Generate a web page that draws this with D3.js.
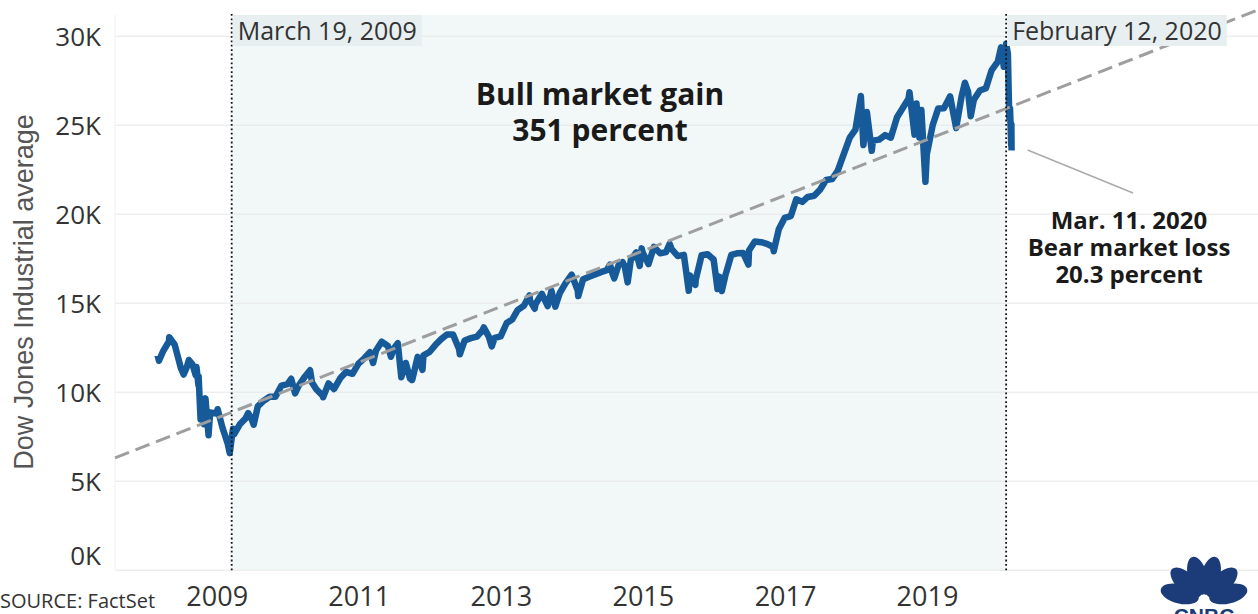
<!DOCTYPE html>
<html>
<head>
<meta charset="utf-8">
<script src="https://cdnjs.cloudflare.com/ajax/libs/d3/7.8.5/d3.min.js"></script>
<style>
body { margin: 0; background: #fff; }
svg { display: block; }
.grid line { stroke: #e6e6e6; stroke-width: 1; }
.grid path { display: none; }
.axis path { display: none; }
.axis text { font-family: "Open Sans", sans-serif; fill: #333; }
</style>
</head>
<body>
<svg width="1258" height="614"></svg>
<script>
// Dow Jones Industrial average
var dates = [
  "2008-03-03","2008-03-10","2008-03-31","2008-04-30","2008-05-02","2008-05-30","2008-06-30","2008-07-15",
  "2008-07-31","2008-08-11","2008-08-29","2008-09-15","2008-09-19","2008-09-29","2008-09-30","2008-10-10",
  "2008-10-13","2008-10-27","2008-10-31","2008-11-04","2008-11-20","2008-11-28","2008-12-31",
  "2009-01-06","2009-01-30","2009-02-27","2009-03-09","2009-03-19","2009-03-26","2009-03-31","2009-04-30",
  "2009-05-29","2009-06-12","2009-06-30","2009-07-10","2009-07-31","2009-08-31","2009-09-30","2009-10-30",
  "2009-11-30","2009-12-31",
  "2010-01-19","2010-02-08","2010-02-26","2010-03-31","2010-04-26","2010-05-06","2010-05-28","2010-06-30",
  "2010-07-02","2010-07-30","2010-08-27","2010-09-30","2010-10-29","2010-11-30","2010-12-31",
  "2011-01-31","2011-02-28","2011-03-16","2011-03-31","2011-04-29","2011-05-31","2011-06-16","2011-06-30",
  "2011-07-21","2011-08-08","2011-08-31","2011-09-22","2011-09-30","2011-10-03","2011-10-31","2011-11-25",
  "2011-11-30","2011-12-30",
  "2012-01-31","2012-02-29","2012-03-30","2012-04-30","2012-05-31","2012-06-04","2012-06-29","2012-07-31",
  "2012-08-31","2012-09-28","2012-10-05","2012-10-31","2012-11-15","2012-11-30","2012-12-31",
  "2013-01-31","2013-02-28","2013-03-28","2013-04-30","2013-05-28","2013-05-31","2013-06-24","2013-06-28",
  "2013-07-31","2013-08-30","2013-09-18","2013-09-30","2013-10-08","2013-10-31","2013-11-29","2013-12-31",
  "2014-01-31","2014-02-03","2014-02-28","2014-03-31","2014-04-30","2014-05-30","2014-06-30","2014-07-16",
  "2014-07-31","2014-08-07","2014-08-29","2014-09-19","2014-09-30","2014-10-15","2014-10-31","2014-11-28",
  "2014-12-16","2014-12-26","2014-12-31",
  "2015-01-30","2015-02-27","2015-03-31","2015-04-30","2015-05-19","2015-05-29","2015-06-30","2015-07-31",
  "2015-08-25","2015-08-31","2015-09-28","2015-09-30","2015-10-30","2015-11-30","2015-12-31",
  "2016-01-20","2016-01-29","2016-02-11","2016-02-29","2016-03-31","2016-04-29","2016-05-31","2016-06-27",
  "2016-06-30","2016-07-29","2016-08-31","2016-09-30","2016-10-31","2016-11-04","2016-11-30","2016-12-30",
  "2017-01-31","2017-02-28","2017-03-31","2017-04-28","2017-05-31","2017-06-30","2017-07-31","2017-08-31",
  "2017-09-29","2017-10-31","2017-11-30","2017-12-29",
  "2018-01-26","2018-02-08","2018-02-26","2018-03-23","2018-03-29","2018-04-30","2018-05-31","2018-06-29",
  "2018-07-31","2018-08-31","2018-09-28","2018-10-03","2018-10-29","2018-10-31","2018-11-08","2018-11-23",
  "2018-12-03","2018-12-24","2018-12-31",
  "2019-01-31","2019-02-28","2019-03-29","2019-04-30","2019-05-31","2019-06-28","2019-07-15","2019-07-31",
  "2019-08-14","2019-08-30","2019-09-30","2019-10-31","2019-11-29","2019-12-31",
  "2020-01-17","2020-01-31","2020-02-12","2020-02-21","2020-02-28","2020-03-03","2020-03-09","2020-03-10",
  "2020-03-11"
];
var values = [
  12050,11740,12263,12820,13058,12638,11350,10962,
  11378,11782,11544,10917,11388,10365,10851,8451,
  9387,8175,9325,9625,7552,8829,8776,
  9015,8000,7063,6547,7400,7924,7609,8168,
  8500,8799,8447,8146,9172,9496,9712,9713,
  10345,10428,
  10725,9908,10325,10857,11205,10520,10137,9774,
  9686,10466,10150,10788,11118,11006,11578,
  11892,12226,11613,12320,12811,12570,11962,12414,
  12724,10810,11614,10733,10913,10655,11955,11231,
  12046,12218,
  12633,12952,13212,13214,12393,12101,12880,13009,
  13091,13437,13610,13096,12543,13026,13104,
  13861,14054,14579,14840,15409,15116,14660,14910,
  15500,14810,15676,15130,14776,15546,16086,16577,
  15699,15373,16322,16458,16581,16717,16827,17138,
  16563,16368,17098,17280,17043,16142,17391,17828,
  17068,18053,17823,
  17165,18133,17776,17841,18312,18011,17620,17690,
  15666,16528,16001,16285,17664,17720,17425,
  15766,16466,15660,16517,17685,17774,17787,17140,
  17930,18432,18401,18308,18142,17888,19124,19763,
  19864,20812,20663,20941,21009,21350,21891,21948,
  22405,23377,24272,24719,
  26617,23860,25709,23533,24103,24163,24416,24271,
  25415,25965,26458,26828,24443,25116,26191,24286,
  25826,21792,23327,
  24999,25916,25929,26593,24815,26600,27359,26864,
  25479,26403,26917,27046,28051,28538,
  29348,28256,29551,28992,25409,25917,23851,25018,
  23553
];
var yTicks = [0, 5000, 10000, 15000, 20000, 25000, 30000];
var xTickYears = [2009, 2011, 2013, 2015, 2017, 2019];
var markerDates = ["2009-03-19", "2020-02-12"];
var markerLabels = ["March 19, 2009", "February 12, 2020"];
var trendDates = ["2007-07-28", "2023-08-30"];
var trendValues = [6280, 31450];
var bullText = ["Bull market gain", "351 percent"];
var bearDate = "2020-03-11";
var bearText = ["Mar. 11. 2020", "Bear market loss", "20.3 percent"];

var svg = d3.select("svg"),
    plotLeft = 115, plotRight = 1258, plotTop = 35.7, plotBottom = 569.7;

var parseTime = d3.timeParse("%Y-%m-%d");

var x = d3.scaleTime().domain([parseTime("2007-07-28"), parseTime("2023-08-30")]).range([plotLeft, plotRight]),
    y = d3.scaleLinear().domain([0, 30000]).range([plotBottom, plotTop]);

var data = dates.map(function(d, i) { return {date: parseTime(d), value: values[i]}; });

var line = d3.line()
    .curve(d3.curveLinear)
    .x(function(d) { return x(d.date); })
    .y(function(d) { return y(d.value); });

// Bull market shading
var m0 = x(parseTime(markerDates[0])), m1 = x(parseTime(markerDates[1]));
svg.append("rect")
    .attr("x", m0).attr("y", 15)
    .attr("width", m1 - m0).attr("height", plotBottom - 15)
    .attr("fill", "#f2f8f8");

// Y gridlines
svg.append("g")
    .attr("class", "grid")
    .attr("transform", "translate(" + plotLeft + ",0)")
    .call(d3.axisLeft(y).tickValues(yTicks).tickSize(-(plotRight - plotLeft)).tickFormat(""));

svg.append("line")
    .attr("x1", plotLeft).attr("x2", plotLeft).attr("y1", 15).attr("y2", plotBottom)
    .attr("stroke", "#f0f0f0");

// Y axis labels
var yAxis = svg.append("g")
    .attr("class", "axis")
    .attr("transform", "translate(" + (plotLeft - 14) + ",0)")
    .call(d3.axisLeft(y).tickValues(yTicks).tickSize(0).tickPadding(0)
        .tickFormat(function(d) { return (d / 1000) + "K"; }));
yAxis.selectAll("text")
    .style("font-size", "26px")
    .attr("dy", function(d) { return d === 0 ? "-0.2em" : "0.36em"; });

// X axis labels
var xAxis = svg.append("g")
    .attr("class", "axis")
    .attr("transform", "translate(0," + plotBottom + ")")
    .call(d3.axisBottom(x).tickValues(xTickYears.map(function(yr) { return new Date(yr, 0, 1); }))
        .tickSize(0).tickPadding(0).tickFormat(d3.timeFormat("%Y")));
xAxis.selectAll("text")
    .style("font-size", "27px")
    .attr("y", 36).attr("dy", 0);

// Y axis title
svg.append("text")
    .attr("transform", "translate(33,292) rotate(-90)")
    .attr("text-anchor", "middle")
    .style("font-family", "'Liberation Sans', Arial, sans-serif")
    .style("font-size", "27px")
    .attr("fill", "#555")
    .text("Dow Jones Industrial average");

// Index line
svg.append("path")
    .datum(data)
    .attr("fill", "none")
    .attr("stroke", "#175a99")
    .attr("stroke-width", 6.5)
    .attr("stroke-linejoin", "round")
    .attr("d", line);

// Trend line
var trend = trendDates.map(function(d, i) { return {date: parseTime(d), value: trendValues[i]}; });
svg.append("path")
    .datum(trend)
    .attr("fill", "none")
    .attr("stroke", "#9e9e9e")
    .attr("stroke-width", 3)
    .attr("stroke-dasharray", "15,7")
    .attr("d", line);

// Dotted markers with date labels
markerDates.forEach(function(d, i) {
    var mx = x(parseTime(d));
    svg.append("line")
        .attr("x1", mx).attr("x2", mx).attr("y1", 14).attr("y2", plotBottom + 2)
        .attr("stroke", "#111").attr("stroke-width", 1.8)
        .attr("stroke-dasharray", "1.8,2.6");
    var bg = svg.append("rect").attr("fill", "#e7eff1");
    var t = svg.append("text")
        .attr("x", mx + 6).attr("y", 40)
        .style("font-family", "'Open Sans', sans-serif")
        .style("font-size", "25px")
        .attr("fill", "#333")
        .text(markerLabels[i]);
    var b = t.node().getBBox();
    bg.attr("x", mx + 1).attr("y", 15).attr("width", b.width + 10).attr("height", 31);
});

// Bull market annotation
svg.append("text")
    .attr("x", 600).attr("y", 105)
    .attr("text-anchor", "middle")
    .style("font-family", "'Open Sans', sans-serif")
    .style("font-size", "30px").style("font-weight", "bold")
    .attr("fill", "#1a1a1a")
    .selectAll("tspan").data(bullText).enter().append("tspan")
    .attr("x", 600).attr("dy", function(d, i) { return i ? 36 : 0; })
    .text(function(d) { return d; });

// Bear market annotation
var bx = x(parseTime(bearDate));
svg.append("line")
    .attr("x1", bx + 16).attr("y1", 150).attr("x2", 1133).attr("y2", 193)
    .attr("stroke", "#aaa").attr("stroke-width", 1.5);
svg.append("text")
    .attr("x", 1129).attr("y", 229)
    .attr("text-anchor", "middle")
    .style("font-family", "'Open Sans', sans-serif")
    .style("font-size", "24px").style("font-weight", "bold")
    .attr("fill", "#1a1a1a")
    .selectAll("tspan").data(bearText).enter().append("tspan")
    .attr("x", 1129).attr("dy", function(d, i) { return i ? 27 : 0; })
    .text(function(d) { return d; });

// Source
svg.append("text")
    .attr("x", 0).attr("y", 608)
    .style("font-family", "'Open Sans', sans-serif")
    .style("font-size", "20px")
    .attr("fill", "#333")
    .text("SOURCE: FactSet");

// CNBC logo
var logo = svg.append("g").attr("transform", "translate(1204,600)");
[-76, -46, -15, 15, 46, 76].forEach(function(a) {
    logo.append("ellipse")
        .attr("cx", 0).attr("cy", -25).attr("rx", 9.5).attr("ry", 19.5)
        .attr("transform", "rotate(" + a + ")")
        .attr("fill", "#1b3c78");
});
logo.append("text")
    .attr("x", 0).attr("y", 23)
    .attr("text-anchor", "middle")
    .style("font-family", "'Liberation Sans', Arial, sans-serif")
    .style("font-size", "21px").style("font-weight", "bold")
    .attr("fill", "#1b3c78")
    .text("CNBC");
</script>
</body>
</html>
